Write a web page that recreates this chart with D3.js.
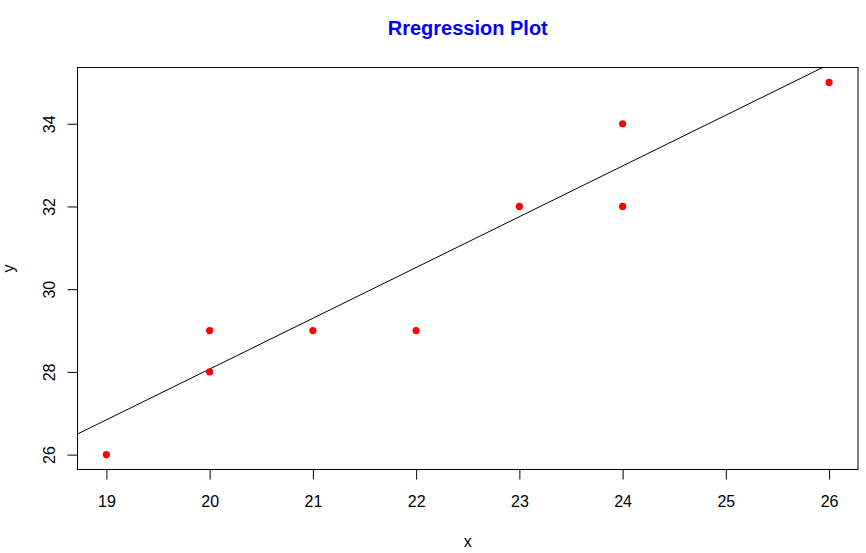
<!DOCTYPE html>
<html>
<head>
<meta charset="utf-8">
<script src="https://cdn.jsdelivr.net/npm/d3@7"></script>
<style>
  html, body { margin: 0; padding: 0; background: #fff; }
  text { font-family: "Liberation Sans", Arial, sans-serif; }
</style>
</head>
<body>
<svg id="chart" width="866" height="553"></svg>
<script>
// Data
const xValues = [19, 20, 20, 21, 22, 23, 24, 24, 26];
const yValues = [26, 28, 29, 29, 29, 32, 32, 34, 35];
const xTicks = [19, 20, 21, 22, 23, 24, 25, 26];
const yTicks = [26, 28, 30, 32, 34];
const lineIntercept = 3.515;
const lineSlope = 1.2277;
const titleText = "Rregression Plot";
const xLabel = "x";
const yLabel = "y";

const svg = d3.select("#chart");
const W = 866, H = 553;
const plot = { left: 77.5, right: 858, top: 67.5, bottom: 469.5 };

// R-style 4% range extension
const xMin = d3.min(xValues), xMax = d3.max(xValues);
const yMin = d3.min(yValues), yMax = d3.max(yValues);
const xPad = (xMax - xMin) * 0.04, yPad = (yMax - yMin) * 0.04;

const x = d3.scaleLinear().domain([xMin - xPad, xMax + xPad]).range([plot.left, plot.right]);
const y = d3.scaleLinear().domain([yMin - yPad, yMax + yPad]).range([plot.bottom, plot.top]);

svg.append("rect").attr("width", W).attr("height", H).attr("fill", "#fff");

// clip
svg.append("clipPath").attr("id", "clip")
  .append("rect")
  .attr("x", plot.left).attr("y", plot.top)
  .attr("width", plot.right - plot.left).attr("height", plot.bottom - plot.top);

// regression line
const xd = x.domain();
svg.append("line")
  .attr("clip-path", "url(#clip)")
  .attr("x1", x(xd[0])).attr("y1", y(lineIntercept + lineSlope * xd[0]))
  .attr("x2", x(xd[1])).attr("y2", y(lineIntercept + lineSlope * xd[1]))
  .attr("stroke", "#000").attr("stroke-width", 1);

// points
svg.append("g").selectAll("circle")
  .data(xValues.map((v, i) => ({ x: v, y: yValues[i] })))
  .join("circle")
  .attr("cx", d => x(d.x)).attr("cy", d => y(d.y))
  .attr("r", 3.6).attr("fill", "#ff0000");

// box
svg.append("rect")
  .attr("x", plot.left).attr("y", plot.top)
  .attr("width", plot.right - plot.left).attr("height", plot.bottom - plot.top)
  .attr("fill", "none").attr("stroke", "#000").attr("stroke-width", 1);

// x axis
const xAxis = d3.axisBottom(x).tickValues(xTicks).tickSize(10).tickSizeOuter(0).tickPadding(16)
  .tickFormat(d3.format("d"));
const gx = svg.append("g").attr("transform", `translate(0,${plot.bottom})`).call(xAxis);
gx.select(".domain").attr("d", `M${x(xTicks[0])},0H${x(xTicks[xTicks.length - 1])}`).attr("stroke", "#000");
gx.selectAll("text").attr("font-size", 16).attr("fill", "#000")
  .attr("font-family", "Liberation Sans, Arial, sans-serif");
gx.selectAll("line").attr("stroke", "#000");

// y axis
const yAxis = d3.axisLeft(y).tickValues(yTicks).tickSize(10).tickSizeOuter(0).tickFormat(d3.format("d"));
const gy = svg.append("g").attr("transform", `translate(${plot.left},0)`).call(yAxis);
gy.select(".domain").attr("d", `M0,${y(yTicks[0])}V${y(yTicks[yTicks.length - 1])}`).attr("stroke", "#000");
gy.selectAll("line").attr("stroke", "#000");
gy.selectAll("text")
  .attr("font-size", 16).attr("fill", "#000")
  .attr("font-family", "Liberation Sans, Arial, sans-serif")
  .attr("x", null).attr("dy", null)
  .attr("text-anchor", "middle")
  .attr("transform", "translate(-23,0) rotate(-90)");

// title
svg.append("text")
  .attr("x", (plot.left + plot.right) / 2).attr("y", 35)
  .attr("text-anchor", "middle")
  .attr("font-size", 20).attr("font-weight", "bold").attr("fill", "#0000ff")
  .text(titleText);

// axis labels
svg.append("text")
  .attr("x", (plot.left + plot.right) / 2).attr("y", 547)
  .attr("text-anchor", "middle").attr("font-size", 16).attr("fill", "#000")
  .text(xLabel);

svg.append("text")
  .attr("transform", `translate(14,${(plot.top + plot.bottom) / 2}) rotate(-90)`)
  .attr("text-anchor", "middle").attr("font-size", 16).attr("fill", "#000")
  .text(yLabel);
</script>
</body>
</html>
